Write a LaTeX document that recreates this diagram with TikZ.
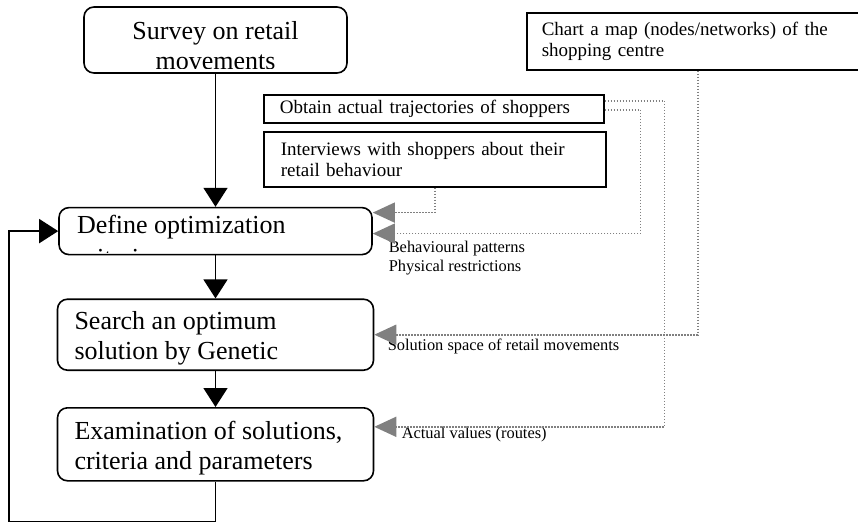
\documentclass[tikz,border=0pt]{standalone}
\usepackage{fontspec}
\setmainfont{Liberation Serif}
\usetikzlibrary{arrows.meta, positioning}
\tikzstyle{flowchart}=[x=1pt, y=-1pt, line width=1.6pt, >={Triangle[length=19pt,width=24pt]}]
\tikzstyle{stage}=[draw, rounded corners=10pt, inner sep=0pt]
\tikzstyle{stagetext}=[inner sep=0pt, align=left, font=\fontsize{26}{30}\selectfont]
\tikzstyle{source}=[draw, anchor=north west, inner ysep=2pt, align=left, text width=308pt, font=\fontsize{19}{21.5}\selectfont]
\tikzstyle{feed}=[draw=black!50, line width=1.6pt, dash pattern=on 1.5pt off 1.5pt, -{Triangle[length=22pt,width=20pt]}]
\tikzstyle{note}=[inner sep=0pt, anchor=base west, align=left, font=\fontsize{16.4}{19}\selectfont]

\begin{document}
\begin{tikzpicture}[flowchart]
  \useasboundingbox (0,0) rectangle (858,523);
  % main stages
  \node[stage, minimum width=263pt, minimum height=66pt] (survey) at (215.5,40) {};
  \node[stage, minimum width=313pt, minimum height=47pt] (define) [below=133pt of survey] {};
  \node[stage, minimum width=316pt, minimum height=71pt] (search) [below=43pt of define] {};
  \node[stage, minimum width=316pt, minimum height=73pt] (exam) [below=36pt of search] {};
  % base of a two-line text is its last line
  \begin{scope}
    \clip ([shift={(4pt,5.5pt)}]survey.south west) rectangle ([shift={(-4pt,-4pt)}]survey.north east);
    \node[stagetext, align=center, anchor=base] (surveytext) at ([yshift=-63pt]survey.north) {Survey on retail\\movements};
  \end{scope}
  \begin{scope}
    \clip ([shift={(4pt,2.5pt)}]define.south west) rectangle ([shift={(-4pt,-4pt)}]define.north east);
    \node[stagetext, anchor=base west] (definetext) at ([shift={(18pt,-60pt)}]define.north west) {Define optimization\\[3pt]criteria};
  \end{scope}
  \node[stagetext, anchor=base west] (searchtext) at ([shift={(17pt,-61pt)}]search.north west) {Search an optimum\\solution by Genetic};
  \node[stagetext, anchor=base west] (examtext) at ([shift={(17pt,-62pt)}]exam.north west) {Examination of solutions,\\criteria and parameters};

  % data sources
  \node[source, minimum width=342pt, minimum height=57pt, inner xsep=15pt, text width=312pt] (chart) at (526,12) {Chart a map (nodes/networks) of the\\shopping centre};
  \node[source, minimum width=340pt, minimum height=28pt, inner xsep=16pt] (obtain) at (263,94) {Obtain actual trajectories of shoppers};
  \node[source, minimum width=342pt, minimum height=55pt, inner xsep=17pt] (interviews) at (263,131) {Interviews with shoppers about their\\retail behaviour};

  \node[note] (patterns) at (388,271) {Behavioural patterns\\Physical restrictions};
  \node[note] (space) at (387,350) {Solution space of retail movements};
  \node[note] (values) at (401,438) {Actual values (routes)};

  \draw[->] (survey) -- (define);
  \draw[->] (define) -- (search);
  \draw[->] (search) -- (exam);
  \coordinate (back) at (9,521.5);
  \draw[->] (exam.south) |- (back) |- (define.west);

  \draw[feed] (interviews.south) |- ([yshift=18.5pt]define.east);
  \draw[feed] ([yshift=-1pt]obtain.east) -- ++(36,0) |- ([yshift=-2.5pt]define.east);
  \draw[feed] ([yshift=8pt]obtain.east) -- ++(60,0) |- ([yshift=17.5pt]exam.east);
  \draw[feed] (chart.south) |- (search.east);
\end{tikzpicture}
\end{document}
